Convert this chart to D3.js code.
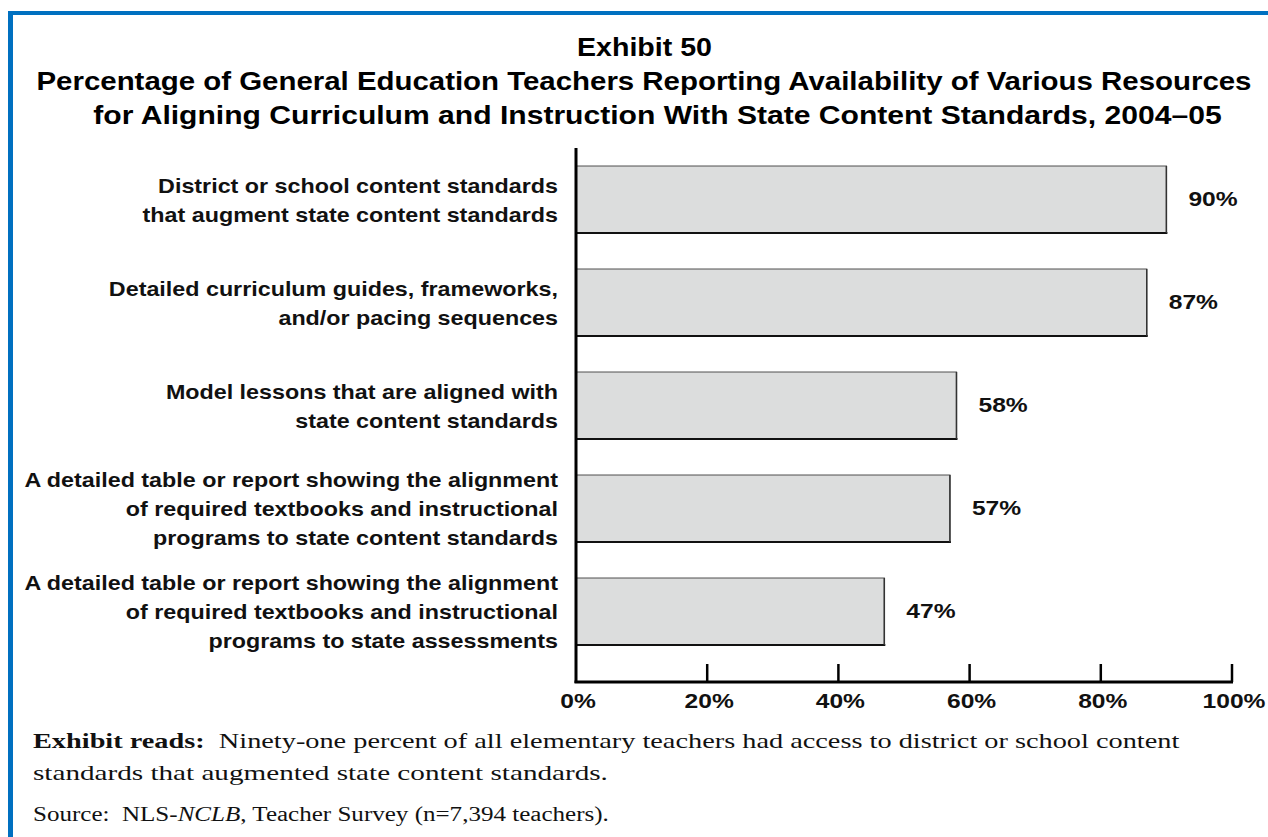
<!DOCTYPE html>
<html><head><meta charset="utf-8">
<script src="https://cdn.jsdelivr.net/npm/d3@7"></script>
<style>
html,body{margin:0;padding:0;background:#fff;}
svg{display:block;}
</style></head>
<body>
<script>
const categories = [
  ["District or school content standards", "that augment state content standards"],
  ["Detailed curriculum guides, frameworks,", "and/or pacing sequences"],
  ["Model lessons that are aligned with", "state content standards"],
  ["A detailed table or report showing the alignment", "of required textbooks and instructional", "programs to state content standards"],
  ["A detailed table or report showing the alignment", "of required textbooks and instructional", "programs to state assessments"]
];
const values = [90, 87, 58, 57, 47];
const tickValues = [0, 20, 40, 60, 80, 100];
const titleLines = [
  "Exhibit 50",
  "Percentage of General Education Teachers Reporting Availability of Various Resources",
  "for Aligning Curriculum and Instruction With State Content Standards, 2004\u201305"
];

const W = 1268, H = 837;
const svg = d3.select("body").append("svg").attr("width", W).attr("height", H);

// horizontally stretch a text element to a target width around an anchor x
function stretch(sel, k, ax) {
  sel.attr("transform", `translate(${ax},0) scale(${k},1) translate(${-ax},0)`);
}
function fitWidth(node, target, ax) {
  const w = node.getComputedTextLength ? node.getComputedTextLength() : node.getBBox().width;
  stretch(d3.select(node), target / w, ax);
}

// blue frame
svg.append("rect").attr("x", 8).attr("y", 11).attr("width", W - 8).attr("height", 4).attr("fill", "#0070c0");
svg.append("rect").attr("x", 8).attr("y", 11).attr("width", 5).attr("height", H - 11).attr("fill", "#0070c0");

// title
const sans = "'Liberation Sans', Arial, sans-serif";
const titleSpans = [[577, 712], [36, 1252], [93, 1222]];
svg.append("g").selectAll("text").data(titleLines).join("text")
  .attr("x", (d, i) => (titleSpans[i][0] + titleSpans[i][1]) / 2).attr("y", (d, i) => 56 + i * 34)
  .attr("text-anchor", "middle")
  .attr("font-family", sans).attr("font-weight", "bold").attr("font-size", 25.5)
  .attr("fill", "#000").text(d => d)
  .each(function(d, i) {
    fitWidth(this, titleSpans[i][1] - titleSpans[i][0], (titleSpans[i][0] + titleSpans[i][1]) / 2);
  });

const x = d3.scaleLinear().domain([0, 100]).range([576, 1232]);
const y = d3.scaleBand().domain(d3.range(values.length)).range([148, 663]).paddingInner(0.35).paddingOuter(0.175);

const g = svg.append("g");

// bars
const bars = g.selectAll("g.bar").data(values).join("g").attr("class", "bar");
bars.append("rect")
  .attr("x", x(0)).attr("y", (d, i) => y(i))
  .attr("width", d => x(d) - x(0)).attr("height", y.bandwidth())
  .attr("fill", "#dcdddd").attr("stroke", "#6a6a6a").attr("stroke-width", 1.2);
bars.append("line")
  .attr("x1", x(0)).attr("x2", d => x(d) + 1)
  .attr("y1", (d, i) => y(i) + y.bandwidth()).attr("y2", (d, i) => y(i) + y.bandwidth())
  .attr("stroke", "#111").attr("stroke-width", 2);
bars.append("line")
  .attr("x1", d => x(d)).attr("x2", d => x(d))
  .attr("y1", (d, i) => y(i)).attr("y2", (d, i) => y(i) + y.bandwidth())
  .attr("stroke", "#333").attr("stroke-width", 1.5);

// value labels
g.selectAll("text.val").data(values).join("text").attr("class", "val")
  .attr("x", d => x(d) + 22).attr("y", (d, i) => y(i) + y.bandwidth() / 2 + 7)
  .attr("font-family", sans).attr("font-weight", "bold").attr("font-size", 20.5)
  .attr("fill", "#111").text(d => d + "%")
  .each(function(d) { stretch(d3.select(this), 1.2, x(d) + 22); });

// category labels
const cat = g.selectAll("text.cat").data(categories).join("text").attr("class", "cat")
  .attr("text-anchor", "end")
  .attr("font-family", sans).attr("font-weight", "bold").attr("font-size", 20)
  .attr("fill", "#111");
cat.each(function(lines, i) {
  const cy = y(i) + y.bandwidth() / 2;
  const lh = 29;
  const top = cy - (lines.length - 1) * lh / 2 + 8;
  d3.select(this).selectAll("tspan").data(lines).join("tspan")
    .attr("x", 558).attr("y", (d, j) => top + j * lh).text(d => d);
  stretch(d3.select(this), 1.165, 558);
});

// axes
const axisG = svg.append("g");
axisG.append("line").attr("x1", x(0)).attr("x2", x(0)).attr("y1", 148).attr("y2", 683)
  .attr("stroke", "#000").attr("stroke-width", 3);
axisG.append("line").attr("x1", x(0) - 1.5).attr("x2", x(100) + 1).attr("y1", 682).attr("y2", 682)
  .attr("stroke", "#000").attr("stroke-width", 3);
axisG.selectAll("line.tick").data(tickValues.slice(1)).join("line").attr("class", "tick")
  .attr("x1", d => x(d)).attr("x2", d => x(d)).attr("y1", 664).attr("y2", 682)
  .attr("stroke", "#000").attr("stroke-width", 2.5);
axisG.selectAll("text.tl").data(tickValues).join("text").attr("class", "tl")
  .attr("x", d => x(d) + 2).attr("y", 708).attr("text-anchor", "middle")
  .attr("font-family", sans).attr("font-weight", "bold").attr("font-size", 20.5)
  .attr("fill", "#111").text(d => d + "%")
  .each(function(d) { stretch(d3.select(this), 1.2, x(d) + 2); });

// notes
const serif = "'Liberation Serif', 'Times New Roman', serif";
const n1 = svg.append("text").attr("x", 33).attr("y", 748).attr("font-family", serif).attr("font-size", 22).attr("fill", "#111");
n1.append("tspan").attr("font-weight", "bold").text("Exhibit reads:");
n1.append("tspan").text("\u00a0 Ninety-one percent of all elementary teachers had access to district or school content");
stretch(n1, 1147 / n1.node().getBBox().width, 33);
const n2 = svg.append("text").attr("x", 33).attr("y", 780).attr("font-family", serif).attr("font-size", 22).attr("fill", "#111")
  .text("standards that augmented state content standards.");
stretch(n2, 575 / n2.node().getBBox().width, 33);
const n3 = svg.append("text").attr("x", 33).attr("y", 821).attr("font-family", serif).attr("font-size", 20).attr("fill", "#111");
n3.append("tspan").text("Source:\u00a0 NLS-");
n3.append("tspan").attr("font-style", "italic").text("NCLB");
n3.append("tspan").text(", Teacher Survey (n=7,394 teachers).");
stretch(n3, 576 / n3.node().getBBox().width, 33);
</script>
</body></html>
